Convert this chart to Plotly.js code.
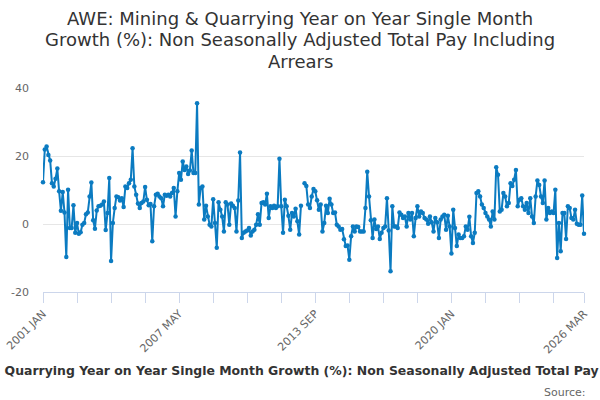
<!DOCTYPE html>
<html>
<head>
<meta charset="utf-8">
<script src="https://cdn.plot.ly/plotly-3.0.1.min.js"></script>
<style>html,body{margin:0;padding:0;background:#fff;}#chart{width:600px;height:400px;}</style>
</head>
<body>
<div id="chart"></div>
<script>
const monthNames = ['JAN','FEB','MAR','APR','MAY','JUN','JUL','AUG','SEP','OCT','NOV','DEC'];
const months = [];
for (let y = 2001; y <= 2026; y++) {
  for (let m = 0; m < 12; m++) {
    if (y === 2026 && m > 2) break;
    months.push(y + ' ' + monthNames[m]);
  }
}

const growth = [
  12.3,21.9,22.8,20.3,18.7,12.0,11.0,13.3,16.3,9.6,
  3.9,9.4,3.4,-9.7,10.1,-1.2,-1.2,5.5,-2.6,0.3,
  -2.9,-2.4,-0.2,0.3,2.9,3.4,8.1,12.2,1.1,-1.4,
  4.0,5.2,5.4,5.7,6.6,-1.8,3.2,13.5,-10.9,0.3,
  4.7,8.1,7.9,6.9,7.6,5.0,11.0,10.6,12.0,13.0,
  22.3,11.0,8.6,6.0,4.7,6.2,6.6,10.9,7.1,5.5,
  5.9,-5.1,5.2,8.6,8.9,8.1,7.6,5.2,8.6,8.3,
  8.6,8.1,9.1,10.6,2.2,9.6,15.0,13.0,18.4,15.9,
  16.9,14.7,15.7,21.6,15.0,15.0,35.5,5.7,10.6,11.0,
  1.3,5.4,2.2,-0.2,-0.7,7.3,0.3,-7.0,6.4,4.2,
  2.2,-2.2,6.4,5.7,-0.2,6.0,5.4,4.7,-2.2,6.9,
  21.0,-4.1,-2.6,-2.2,-1.9,-1.2,-3.4,-2.2,-1.7,-0.2,
  2.9,-0.2,6.2,6.4,5.7,8.9,1.8,5.2,4.7,5.4,
  4.7,5.2,19.2,5.2,-2.6,7.1,5.2,2.4,-1.7,3.2,
  2.2,4.5,0.8,-3.1,5.4,null,12.0,11.2,5.7,4.7,
  8.1,10.3,9.6,7.0,4.2,5.7,-2.2,0.3,5.4,3.2,
  7.4,5.7,3.2,3.4,-0.2,-0.7,-1.7,-1.5,-4.5,-6.5,
  -6.3,-10.5,-3.6,-0.7,-2.2,-0.7,-0.9,-2.2,-2.2,-2.2,
  4.7,15.4,8.1,1.1,-4.1,1.3,-1.5,-0.7,-4.4,-2.6,
  -1.2,-0.7,7.6,-1.9,-13.9,5.2,-0.7,-0.7,-1.2,3.4,
  2.7,1.8,2.2,-0.7,3.2,1.3,3.2,-3.6,1.8,5.2,
  2.2,3.7,3.2,1.8,1.3,0.1,2.2,0.5,-2.2,1.8,
  0.5,-4.1,1.3,2.2,2.7,-1.7,2.4,-0.7,-8.7,4.2,
  -1.2,-6.5,-3.1,-4.1,-4.1,-3.6,-0.7,-1.7,2.1,-3.6,
  -5.6,-2.6,9.1,9.6,8.1,5.7,4.7,3.2,2.2,1.3,
  -0.7,3.7,1.3,16.7,14.5,3.7,4.2,9.1,8.1,5.2,
  6.2,12.0,11.2,13.0,15.9,5.2,7.1,7.6,5.2,4.2,
  6.2,3.2,7.6,2.2,0.3,8.1,12.8,11.5,8.1,6.2,
  12.8,1.3,4.7,3.2,3.7,3.2,10.1,-10.0,0.3,-8.0,
  3.2,3.2,-4.4,5.2,4.7,1.8,1.3,4.2,0.1,-0.2,
  -0.2,8.4,-2.9
];

const labelledTicks = ['2001 JAN','2007 MAY','2013 SEP','2020 JAN','2026 MAR'];
const tickStep = 19;
const yTickVals = [-20, 0, 20, 40];
const yTickText = ['-20', '0', '20', '40'];
const titleText = 'AWE: Mining & Quarrying Year on Year Single Month Growth (%): Non Seasonally Adjusted Total Pay Including Arrears';
const titleLines = ['AWE: Mining & Quarrying Year on Year Single Month', 'Growth (%): Non Seasonally Adjusted Total Pay Including', 'Arrears'];

const xTickVals = [];
const xTickText = [];
for (let i = 0; i < months.length; i += tickStep) {
  xTickVals.push(months[i]);
  xTickText.push(labelledTicks.includes(months[i]) ? months[i] : '');
}
const lastM = months[months.length - 1];
if (!xTickVals.includes(lastM)) { xTickVals.push(lastM); xTickText.push(lastM); }

const font = 'DejaVu Sans, Arial, sans-serif';
const lineColor = '#0b7bc1';

// layout geometry (pixels)
const W = 600, H = 400, mL = 43, mR = 16, mT = 88, mB = 108;
const plotW = W - mL - mR, plotH = H - mT - mB;
const px = x => (x - mL) / plotW;
const py = y => (H - mB - y) / plotH;

const trace = {
  type: 'scatter', mode: 'lines+markers',
  x: months, y: growth,
  line: {color: lineColor, width: 2},
  marker: {color: lineColor, size: 4.5},
  connectgaps: false,
  cliponaxis: false,
  hoverinfo: 'x+y'
};

const titleY = [18, 40, 61];
const annotations = titleLines.map((t, i) => ({
  text: t, showarrow: false,
  xref: 'paper', yref: 'paper', x: px(300), xanchor: 'center',
  y: py(titleY[i]), yanchor: 'middle',
  font: {family: font, size: 18, color: '#333333'}
}));
annotations.push({
  text: titleText, showarrow: false,
  xref: 'paper', yref: 'paper', x: px(311), xanchor: 'center',
  y: py(370), yanchor: 'middle',
  font: {family: font, size: 12.45, color: '#333333', weight: 600}
});
annotations.push({
  text: 'Source:', showarrow: false,
  xref: 'paper', yref: 'paper', x: px(588), xanchor: 'right',
  y: py(392), yanchor: 'middle',
  font: {family: font, size: 11, color: '#666666'}
});

const layout = {
  width: W, height: H,
  margin: {l: mL, r: mR, t: mT, b: mB},
  paper_bgcolor: '#ffffff', plot_bgcolor: '#ffffff',
  font: {family: font, color: '#666666', size: 11},
  showlegend: false,
  xaxis: {
    type: 'category',
    range: [0, months.length - 1],
    tickmode: 'array', tickvals: xTickVals, ticktext: xTickText,
    tickangle: -45,
    ticks: 'outside', ticklen: 10, tickcolor: '#ccd6eb', tickwidth: 1,
    showline: true, linecolor: '#ccd6eb', linewidth: 1,
    showgrid: false, zeroline: false,
    tickfont: {family: font, size: 11, color: '#666666'}
  },
  yaxis: {
    range: [-20, 40],
    tickmode: 'array', tickvals: yTickVals, ticktext: yTickText,
    showgrid: true, gridcolor: '#e6e6e6', gridwidth: 1,
    zeroline: false, showline: false, ticks: '',
    ticklabelstandoff: 13,
    tickfont: {family: font, size: 11, color: '#666666'}
  },
  annotations: annotations
};

Plotly.newPlot('chart', [trace], layout, {displayModeBar: false, staticPlot: true});
</script>
</body>
</html>
